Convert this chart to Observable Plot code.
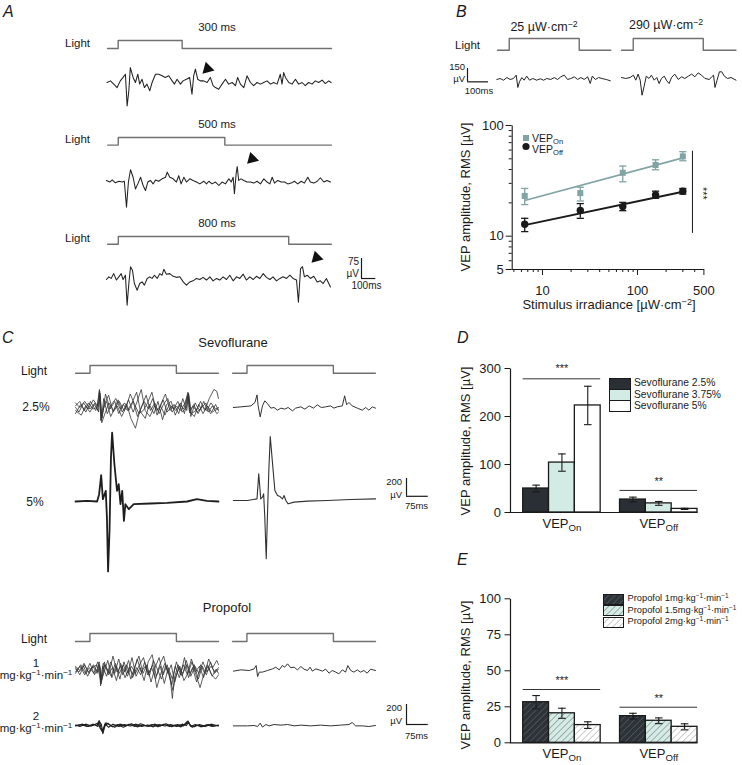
<!DOCTYPE html>
<html><head><meta charset="utf-8">
<script src="https://cdn.jsdelivr.net/npm/d3@7"></script>
<script src="https://cdn.jsdelivr.net/npm/@observablehq/plot@0.6"></script>
<style>
body{margin:0;background:#fff;}
#fig{position:relative;width:742px;height:765px;overflow:hidden;background:#fff;font-family:"Liberation Sans",Arial,Helvetica,sans-serif;color:#1a1a1a;}
.t{position:absolute;white-space:nowrap;line-height:1;color:#1a1a1a;}
sup{font-size:0.7em;vertical-align:0;position:relative;top:-0.45em;}
sub{font-size:0.72em;vertical-align:0;position:relative;top:0.3em;}
</style></head><body><div id="fig"></div>
<script>
// ---------------- DATA ----------------
// Panel A: light durations (ms) and traces [ms, µV]
const lightDurA = [300, 500, 800];
const traceA300 = [[-52,0],[-36,6],[-21,-6],[-5,-19],[10,6],[23,19],[34,31],[42,-88],[50,-31],[57,56],[70,19],[81,0],[92,31],[101,-6],[112,12],[123,-19],[135,-6],[148,-31],[159,0],[175,31],[190,31],[206,25],[221,19],[237,25],[253,6],[264,-6],[276,12],[292,-6],[304,6],[320,12],[335,19],[346,-44],[354,25],[362,50],[373,12],[385,6],[401,6],[417,0],[432,19],[445,-12],[456,-19],[471,-25],[487,-6],[503,12],[518,-6],[534,0],[550,-12],[560,19],[573,-6],[589,-19],[604,25],[620,0],[635,-12],[651,0],[667,-6],[682,0],[698,6],[714,-6],[729,0],[745,-6],[760,31],[768,-6],[776,37],[784,19],[800,0],[815,-6],[831,12],[846,-6],[862,0],[877,-12],[893,0],[909,-6],[924,6],[940,0],[956,9],[971,-4],[987,6],[998,0]];
const traceA500 = [[-55,4],[-39,-2],[-28,6],[-13,-5],[3,1],[19,-2],[29,1],[39,-96],[48,-2],[58,44],[70,16],[81,-28],[92,-9],[105,16],[117,-15],[128,-34],[139,-2],[151,4],[164,-9],[175,6],[190,1],[206,10],[222,16],[230,35],[242,16],[258,10],[273,-2],[284,22],[295,-9],[308,16],[320,-2],[336,10],[351,4],[367,-2],[383,-9],[401,1],[414,-9],[425,1],[440,-9],[456,-2],[472,-15],[487,-2],[503,-9],[519,10],[530,-2],[539,16],[545,-46],[553,29],[558,56],[565,4],[576,10],[589,4],[604,-2],[620,-2],[636,-6],[651,1],[667,-9],[683,10],[698,-2],[711,-9],[722,16],[733,-6],[748,4],[764,-2],[780,-2],[795,-9],[811,-6],[826,1],[842,-9],[858,1],[873,-6],[889,16],[901,-2],[917,-6],[933,1],[948,14],[964,-2],[979,4],[995,-2]];
const traceA800 = [[-55,0],[-44,10],[-33,4],[-21,22],[-8,-2],[3,10],[14,22],[23,0],[34,16],[42,-96],[50,-15],[58,48],[67,35],[76,-15],[89,-40],[101,-15],[112,-9],[123,-21],[136,4],[148,10],[159,4],[170,16],[183,4],[195,22],[206,16],[214,38],[226,20],[242,22],[258,12],[273,8],[289,10],[305,-9],[320,-21],[336,-9],[351,-5],[367,4],[383,0],[398,8],[414,-2],[430,10],[445,-5],[461,4],[476,-2],[492,10],[508,0],[523,16],[539,-5],[555,10],[570,4],[586,20],[601,-2],[617,10],[633,0],[648,12],[664,4],[680,22],[695,8],[711,0],[726,10],[742,-5],[758,4],[773,10],[789,4],[805,16],[820,4],[836,-2],[845,-85],[855,41],[864,48],[873,10],[886,16],[901,4],[917,12],[933,-9],[948,-5],[961,-15],[976,4],[995,-28]];
const arrowA = [[419,52],[628,85],[930,82]];

// Panel B: traces at two irradiances [ms, µV]
const lightDurB = [300, 300];
const traceB25 = [[-53,0],[-39,11],[-24,-8],[-10,22],[4,0],[18,11],[30,49],[37,-90],[44,-26],[54,22],[64,-8],[75,38],[87,-8],[101,11],[118,-8],[133,8],[147,-8],[161,11],[178,0],[193,22],[207,0],[221,30],[236,49],[250,0],[264,11],[279,30],[293,0],[307,22],[321,0],[336,30],[347,-45],[356,38],[369,0],[383,22],[397,11],[416,0],[433,-15]];
const traceB290 = [[-50,0],[-32,-11],[-13,0],[1,26],[11,-30],[21,38],[30,-30],[38,-199],[47,-98],[56,15],[68,-11],[78,26],[90,-30],[101,0],[111,-68],[121,-11],[133,15],[144,-38],[154,-68],[164,0],[178,38],[193,-22],[207,8],[221,-11],[236,15],[250,38],[264,8],[278,52],[293,26],[307,-11],[326,-22],[336,8],[344,26],[350,-112],[359,-30],[369,64],[379,64],[390,15],[404,-11],[419,0],[440,-30]];

// Panel B: dose-response (µW·cm-2 vs µV RMS)
const irradiance = [6.5, 25, 70, 155, 300];
const vepOnMean = [23.1, 24.5, 37.4, 44, 52.6];
const vepOnLo   = [19.3, 20.8, 31, 39.8, 48];
const vepOnHi   = [27, 27.7, 43, 49, 58];
const vepOffMean = [12.8, 17.1, 18.5, 23.6, 25.5];
const vepOffLo   = [11, 14.5, 17, 22, 24];
const vepOffHi   = [14.5, 19.7, 20.2, 25.5, 27];
const fitOn  = [[6.5, 21.0], [300, 51]];
const fitOff = [[6.5, 12.6], [300, 25.2]];
const sigB = [{x: 379, y1: 10.6, y2: 58.6, tx: 483, ty: 24.4, label: "***"}];

// Panel C: sevoflurane and propofol traces [ms, µV]
const lightDurC = [300, 300];
const sevo25Left = [
 [[-50,17],[-35,68],[-20,-34],[-5,51],[10,-17],[25,0],[33,200],[39,-150],[48,100],[60,-68],[75,34],[90,100],[105,-17],[120,51],[135,-34],[150,68],[165,-100],[180,17],[195,136],[210,-34],[225,51],[240,-68],[255,34],[270,100],[285,-51],[300,17],[315,-34],[330,51],[340,170],[346,-60],[360,34],[375,-68],[390,17],[405,-34],[420,51],[435,-17],[446,0]],
 [[-50,-34],[-30,-85],[-15,17],[0,-51],[15,34],[28,-34],[34,180],[40,-130],[50,34],[65,136],[80,-51],[95,17],[110,-100],[125,0],[140,150],[155,34],[170,-68],[185,-34],[200,51],[215,170],[230,-34],[245,17],[260,-85],[275,34],[290,-17],[305,68],[320,-51],[335,0],[341,150],[348,-51],[362,-100],[378,34],[392,-68],[408,17],[422,-51],[436,34],[446,-34]],
 [[-50,51],[-35,0],[-18,68],[0,-17],[18,51],[30,-51],[35,160],[41,-170],[52,-68],[66,51],[82,-34],[98,85],[112,-51],[128,34],[142,-120],[158,-230],[172,-51],[188,68],[203,-17],[218,100],[233,-85],[248,51],[262,150],[278,-34],[292,34],[308,-68],[322,100],[336,-34],[342,160],[350,-100],[365,51],[380,-34],[395,68],[410,-51],[425,17],[440,-68],[446,-51]],
 [[-50,-68],[-32,34],[-14,-51],[2,68],[20,-34],[31,51],[36,130],[42,-120],[54,150],[70,-17],[86,68],[100,-68],[116,34],[130,-34],[146,51],[162,170],[176,-51],[192,-120],[206,34],[222,-68],[236,68],[252,-136],[266,34],[282,68],[296,-85],[312,34],[326,-17],[338,120],[343,140],[352,-68],[368,-34],[384,68],[398,-34],[414,100],[430,200],[440,180],[446,100]],
 [[-50,0],[-38,-51],[-22,51],[-6,-17],[12,85],[26,17],[33,180],[38,-140],[46,-17],[58,68],[72,-100],[88,0],[102,68],[118,-34],[134,85],[150,-51],[164,68],[178,200],[192,-34],[208,-100],[224,17],[238,-34],[254,85],[268,-51],[284,17],[298,-34],[314,51],[328,-68],[340,140],[345,-34],[358,17],[372,-51],[388,0],[402,51],[418,-68],[432,-34],[446,-17]]
];
const sevo25Right = [[-47,0],[-21,7],[14,18],[28,56],[35,140],[39,18],[46,-104],[54,18],[62,74],[71,44],[83,-7],[94,0],[106,-30],[118,-7],[131,-18],[143,0],[158,-37],[169,-7],[187,7],[201,-18],[216,18],[231,-7],[244,30],[258,0],[273,7],[290,18],[302,-7],[313,7],[331,18],[339,130],[346,30],[354,56],[365,18],[383,-7],[400,-30],[412,0],[423,-30],[435,7],[446,-7]];
const sevo5Left = [[-50,0],[-9,7],[25,0],[32,81],[39,292],[45,26],[51,81],[55,118],[59,-178],[63,-777],[68,-326],[73,488],[77,766],[85,414],[94,118],[100,192],[106,-30],[112,118],[118,-215],[123,-30],[135,-85],[152,-30],[210,-22],[268,-15],[337,0],[371,26],[406,7],[446,0]];
const sevo5Right = [[-47,0],[2,0],[35,18],[41,296],[48,18],[54,37],[58,74],[62,-185],[67,-648],[71,-185],[76,333],[81,710],[89,407],[97,111],[106,55],[115,44],[123,18],[129,55],[135,0],[143,-37],[164,-18],[210,-7],[279,0],[360,11],[446,18]];
const prop1Left = [
 [[-50,32],[-35,-48],[-20,64],[-5,-16],[10,48],[25,-32],[32,96],[37,-170],[44,48],[58,-64],[72,96],[86,-32],[100,128],[114,-48],[128,64],[142,-96],[156,48],[170,160],[184,-32],[198,64],[212,-128],[226,32],[240,144],[254,-48],[268,64],[280,-128],[286,-310],[292,-96],[306,64],[320,-64],[334,112],[348,-32],[362,64],[376,-96],[390,48],[404,-48],[418,96],[432,-32],[446,16]],
 [[-50,-32],[-32,64],[-16,-32],[0,80],[16,-48],[28,32],[34,64],[38,-130],[48,-32],[62,112],[76,-80],[90,48],[104,-96],[118,96],[132,-32],[146,144],[160,-64],[174,32],[188,-112],[202,96],[216,176],[230,-64],[244,48],[258,-144],[272,32],[286,-96],[300,96],[314,-48],[328,144],[342,-80],[356,32],[370,-128],[384,64],[398,-32],[412,128],[426,32],[440,112],[446,64]],
 [[-50,16],[-38,-16],[-22,48],[-8,-64],[8,32],[24,64],[33,-48],[39,-150],[50,96],[64,-48],[78,32],[92,-112],[106,80],[120,-16],[134,112],[148,-80],[162,32],[176,-48],[190,96],[204,-32],[218,64],[232,-190],[246,-32],[260,80],[274,-48],[288,-220],[298,-64],[312,48],[326,-112],[340,-32],[354,96],[368,-48],[382,-190],[396,-32],[410,48],[424,-64],[438,16],[446,-32]],
 [[-50,-16],[-34,48],[-18,-48],[-2,32],[14,-32],[27,96],[35,32],[40,-120],[52,64],[66,-32],[80,160],[94,-16],[108,48],[122,-80],[136,32],[150,-48],[164,128],[178,-16],[192,48],[206,-64],[220,112],[234,16],[248,-96],[262,48],[276,-32],[284,-160],[296,48],[310,-80],[324,64],[338,-48],[352,128],[366,-16],[380,48],[394,-80],[408,64],[422,-48],[436,-96],[446,-48]],
 [[-50,48],[-36,0],[-20,80],[-4,-32],[12,64],[26,-16],[34,48],[38,-100],[46,80],[60,16],[74,-64],[88,80],[102,-32],[116,64],[130,-64],[144,48],[158,-32],[172,64],[186,144],[200,-48],[214,32],[228,-96],[242,64],[256,160],[270,-32],[282,64],[294,-128],[308,32],[322,-32],[336,64],[350,-64],[364,48],[378,-32],[392,96],[406,-16],[420,48],[434,-16],[446,32]]
];
const prop1Right = [[-47,-7],[-21,7],[8,0],[25,18],[32,55],[37,-67],[43,-18],[54,-18],[71,0],[89,18],[100,37],[112,7],[123,55],[131,37],[141,74],[152,30],[164,37],[175,7],[187,44],[198,15],[210,0],[219,37],[227,-7],[239,18],[250,7],[262,-7],[273,15],[285,-30],[296,0],[308,-18],[319,-37],[331,7],[342,-18],[350,55],[360,0],[371,-18],[383,7],[394,-18],[406,0],[417,-30],[429,15],[446,0]];
const prop2Left = [
 [[-50,0],[-30,10],[-10,-10],[10,15],[25,0],[32,55],[38,-20],[44,-80],[52,20],[65,-20],[80,15],[100,-10],[120,10],[140,-5],[160,15],[180,-10],[200,5],[220,-15],[240,10],[260,-5],[280,10],[300,-10],[320,15],[335,0],[342,40],[350,-10],[365,10],[385,-15],[405,5],[425,-10],[446,5]],
 [[-50,5],[-35,-10],[-15,15],[5,-5],[22,20],[30,30],[35,-30],[42,-60],[50,-10],[62,25],[78,-15],[96,10],[116,-20],[136,15],[156,-10],[176,20],[196,-5],[216,10],[236,-15],[256,15],[276,-10],[296,5],[316,-15],[330,20],[340,50],[348,0],[362,-15],[380,10],[400,-10],[420,15],[446,-5]],
 [[-50,-5],[-25,15],[-5,-10],[15,10],[28,-10],[33,45],[40,10],[45,-90],[55,30],[70,5],[86,-20],[104,15],[124,-5],[144,20],[164,-15],[184,5],[204,-10],[224,15],[244,-5],[264,20],[284,-15],[304,10],[324,-5],[338,30],[344,20],[355,-20],[370,5],[390,-10],[410,10],[430,-5],[446,0]]
];
const prop2Right = [[-47,-4],[2,-4],[25,0],[37,-11],[46,26],[54,-18],[66,11],[77,-4],[94,11],[118,4],[141,11],[164,-4],[187,4],[221,-4],[256,4],[290,-4],[325,4],[354,11],[365,33],[377,-4],[400,-4],[423,-11],[446,0]];

// Panel D: sevoflurane bar chart (µV RMS)
const groups = ["VEP_On", "VEP_Off"];
const sevoSeries = ["Sevoflurane 2.5%", "Sevoflurane 3.75%", "Sevoflurane 5%"];
const sevoOnMean = [50, 104, 223];
const sevoOnErr  = [7, 18, 40];
const sevoOffMean = [27, 19, 7.5];
const sevoOffErr  = [5, 4, 1.2];
const sevoSig = [{group: "VEP_On", y: 278.5, ty: 306, label: "***"}, {group: "VEP_Off", y: 46, ty: 71.5, label: "**"}];
const sevoTicks = [0, 100, 200, 300];

// Panel E: propofol bar chart (µV RMS)
const propSeries = ["Propofol 1mg·kg<sup>−1</sup>·min<sup>−1</sup>", "Propofol 1.5mg·kg<sup>−1</sup>·min<sup>−1</sup>", "Propofol 2mg·kg<sup>−1</sup>·min<sup>−1</sup>"];
const propOnMean = [28.2, 20.5, 12.3];
const propOnErr  = [4.6, 3.5, 2.3];
const propOffMean = [18.5, 15.3, 11.1];
const propOffErr  = [2, 2, 2.1];
const propSig = [{group: "VEP_On", y: 37, ty: 45.6, label: "***"}, {group: "VEP_Off", y: 24.7, ty: 32.8, label: "**"}];
const propTicks = [0, 25, 50, 75, 100];

// ---------------- HELPERS ----------------
const fig = document.getElementById("fig");
const FONT = '"Liberation Sans",Arial,Helvetica,sans-serif';
const INK = "#1a1a1a";
const LIGHT = "#707070";
const onColor = "#80a3a3";
const baseStyle = {background: "transparent", overflow: "visible", fontFamily: FONT, color: INK};

const defs = document.createElementNS("http://www.w3.org/2000/svg", "svg");
defs.setAttribute("width", 0); defs.setAttribute("height", 0);
defs.style.position = "absolute";
defs.innerHTML = `<defs>
<pattern id="h0" patternUnits="userSpaceOnUse" width="4.5" height="4.5" patternTransform="rotate(45)"><rect width="4.5" height="4.5" fill="#2c3237"/><line x1="0" y1="0" x2="0" y2="4.5" stroke="#5b6468" stroke-width="1.2"/></pattern>
<pattern id="h1" patternUnits="userSpaceOnUse" width="4.5" height="4.5" patternTransform="rotate(45)"><rect width="4.5" height="4.5" fill="#d5ebe6"/><line x1="0" y1="0" x2="0" y2="4.5" stroke="#4a4f50" stroke-width="0.8"/></pattern>
<pattern id="h2" patternUnits="userSpaceOnUse" width="4.5" height="4.5" patternTransform="rotate(45)"><rect width="4.5" height="4.5" fill="#ffffff"/><line x1="0" y1="0" x2="0" y2="4.5" stroke="#808080" stroke-width="0.8"/></pattern>
</defs>`;
fig.appendChild(defs);

function place(node, left, top) {
  node.style.position = "absolute";
  node.style.left = left + "px";
  node.style.top = top + "px";
  fig.appendChild(node);
  return node;
}
function txt(html, x, y, {size = 11, anchor = "middle", italic = false, rotate = 0} = {}) {
  const d = document.createElement("div");
  d.className = "t";
  d.innerHTML = html;
  d.style.left = x + "px"; d.style.top = y + "px";
  d.style.fontSize = size + "px";
  if (italic) d.style.fontStyle = "italic";
  const tx = anchor === "middle" ? "-50%" : anchor === "end" ? "-100%" : "0";
  d.style.transform = `translate(${tx},-50%)` + (rotate ? ` rotate(${rotate}deg)` : "");
  fig.appendChild(d);
  return d;
}
function subs(svg) {
  svg.querySelectorAll("text").forEach(t => {
    const s = t.textContent;
    if (!s.includes("_")) return;
    const [a, b] = s.split("_");
    t.textContent = a;
    const ts = document.createElementNS("http://www.w3.org/2000/svg", "tspan");
    ts.setAttribute("dy", "0.32em");
    ts.setAttribute("font-size", "0.74em");
    ts.textContent = b;
    t.appendChild(ts);
  });
  return svg;
}
const cap = {draw(ctx, size) { const w = Math.sqrt(size / Math.PI); ctx.moveTo(-w, 0); ctx.lineTo(w, 0); }};

function tracePlot(series, {x0, x1, t0, t1, cy, k, color = "#222", sw = 1, extra = []}) {
  const hh = 40;
  const p = Plot.plot({
    width: x1 - x0, height: 2 * hh, margin: 0,
    x: {domain: [t0, t1], axis: null}, y: {domain: [-hh / k, hh / k], axis: null},
    style: baseStyle,
    marks: [
      ...series.map(s => Plot.line(s, {x: d => d[0], y: d => d[1], stroke: color, strokeWidth: sw, strokeLinejoin: "round"})),
      ...extra
    ]
  });
  return place(p, x0, cy - hh);
}
function lightPlot(dur, {x0, x1, t0, t1, yHigh, yBase}) {
  const pts = [[t0, 0], [0, 1], [dur, 0], [t1, 0]];
  const p = Plot.plot({
    width: x1 - x0, height: yBase - yHigh, margin: 0,
    x: {domain: [t0, t1], axis: null}, y: {domain: [0, 1], axis: null},
    style: baseStyle,
    marks: [Plot.line(pts, {x: d => d[0], y: d => d[1], curve: "step-after", stroke: LIGHT, strokeWidth: 1.4})]
  });
  return place(p, x0, yHigh);
}
function scaleBar({x, yBottom, ms, uv, kx, ky}) {
  const w = ms * kx, h = uv * ky;
  const p = Plot.plot({
    width: w, height: h, margin: 0,
    x: {domain: [0, ms], axis: null}, y: {domain: [0, uv], axis: null},
    style: baseStyle,
    marks: [
      Plot.ruleX([0], {y1: 0, y2: uv, stroke: INK, strokeWidth: 1.2}),
      Plot.ruleY([0], {x1: 0, x2: ms, stroke: INK, strokeWidth: 1.2})
    ]
  });
  return place(p, x, yBottom - h);
}

// ---------------- PANEL LETTERS ----------------
txt("A", 3, 12, {size: 16, anchor: "start", italic: true});
txt("B", 456, 12, {size: 16, anchor: "start", italic: true});
txt("C", 2, 338, {size: 16, anchor: "start", italic: true});
txt("D", 457, 338, {size: 16, anchor: "start", italic: true});
txt("E", 457, 560, {size: 16, anchor: "start", italic: true});

// ---------------- PANEL A ----------------
const aX = {x0: 107, x1: 331, t0: -50, t1: 1000};
const aRows = [
  {dur: lightDurA[0], tr: traceA300, label: "300 ms", ly: 28, hi: 40.3, base: 48.3, cy: 81.7, arrow: arrowA[0]},
  {dur: lightDurA[1], tr: traceA500, label: "500 ms", ly: 124.5, hi: 136.7, base: 144.3, cy: 181, arrow: arrowA[1]},
  {dur: lightDurA[2], tr: traceA800, label: "800 ms", ly: 223.5, hi: 236, base: 243.7, cy: 279, arrow: arrowA[2]}
];
for (const r of aRows) {
  txt(r.label, 217, r.ly, {size: 11.5});
  txt("Light", 77.5, (r.hi + r.base) / 2 - 0.5, {size: 11.5});
  lightPlot(r.dur, {...aX, yHigh: r.hi, yBase: r.base});
  tracePlot([r.tr], {...aX, cy: r.cy, k: 0.267, color: "#222", sw: 1.05,
    extra: [Plot.dot([r.arrow], {x: d => d[0], y: d => d[1], symbol: "triangle", r: 4.6, fill: "#111", rotate: 225})]});
}
scaleBar({x: 360.7, yBottom: 278, ms: 100, uv: 75, kx: 0.143, ky: 0.267});
txt("75", 359, 262, {size: 10, anchor: "end"});
txt("µV", 359, 273.5, {size: 10, anchor: "end"});
txt("100ms", 366.5, 285.5, {size: 10});

// ---------------- PANEL B traces ----------------
txt("25 µW·cm<sup>−2</sup>", 544, 26.5, {size: 12.5});
txt("290 µW·cm<sup>−2</sup>", 666, 25, {size: 12.5});
txt("Light", 467.5, 46, {size: 11.5});
const b1 = {x0: 496.7, x1: 610, t0: -50, t1: 435};
const b2 = {x0: 620.7, x1: 735.2, t0: -50, t1: 440};
lightPlot(lightDurB[0], {...b1, yHigh: 38.3, yBase: 50});
lightPlot(lightDurB[1], {...b2, yHigh: 38.3, yBase: 50});
tracePlot([traceB25], {...b1, cy: 79.3, k: 0.0889, sw: 1});
tracePlot([traceB290], {...b2, cy: 77.3, k: 0.0889, sw: 1});
scaleBar({x: 467.3, yBottom: 81.7, ms: 100, uv: 150, kx: 0.21, ky: 0.0889});
txt("150", 465, 66.5, {size: 9.5, anchor: "end"});
txt("µV", 465, 78.5, {size: 9.5, anchor: "end"});
txt("100ms", 479, 90.5, {size: 9.5});

// ---------------- PANEL B scatter ----------------
{
  const L = 440, T = 100, W = 300, H = 220, ml = 71.7, mt = 25, mr = 36.6, mb = 51;
  const fw = W - ml - mr, fh = H - mt - mb;
  const on = irradiance.map((x, i) => ({x, m: vepOnMean[i], lo: vepOnLo[i], hi: vepOnHi[i]}));
  const off = irradiance.map((x, i) => ({x, m: vepOffMean[i], lo: vepOffLo[i], hi: vepOffHi[i]}));
  const p = Plot.plot({
    width: W, height: H, marginLeft: ml, marginTop: mt, marginRight: mr, marginBottom: mb,
    x: {type: "log", domain: [4.8, 500]}, y: {type: "log", domain: [5, 100]},
    style: {...baseStyle, fontSize: "13px"},
    marks: [
      Plot.frame({stroke: INK, strokeWidth: 1.1, strokeDasharray: `0,${fw + fh},${fw + fh}`}),
      Plot.axisY({ticks: [5, 10, 100], tickSize: 6, tickPadding: 2.5, tickFormat: d => String(d), label: null, stroke: INK}),
      Plot.axisY({ticks: [6, 7, 8, 9, 20, 30, 40, 50, 60, 70, 80, 90], tickSize: 3, tickFormat: () => "", label: null, stroke: INK}),
      Plot.axisX({ticks: [10, 100, 500], tickSize: 6, tickPadding: 10, tickFormat: d => String(d), label: null, stroke: INK}),
      Plot.axisX({ticks: [5, 6, 7, 8, 9, 20, 30, 40, 50, 60, 70, 80, 90, 200, 300, 400], tickSize: 3, tickFormat: () => "", label: null, stroke: INK}),
      Plot.line(fitOn, {x: d => d[0], y: d => d[1], stroke: onColor, strokeWidth: 1.7}),
      Plot.line(fitOff, {x: d => d[0], y: d => d[1], stroke: INK, strokeWidth: 1.9}),
      Plot.ruleX(on, {x: "x", y1: "lo", y2: "hi", stroke: onColor, strokeWidth: 1.3}),
      Plot.dot(on, {x: "x", y: "hi", symbol: cap, r: 3.6, stroke: onColor, strokeWidth: 1.3}),
      Plot.dot(on, {x: "x", y: "lo", symbol: cap, r: 3.6, stroke: onColor, strokeWidth: 1.3}),
      Plot.ruleX(off, {x: "x", y1: "lo", y2: "hi", stroke: INK, strokeWidth: 1.3}),
      Plot.dot(off, {x: "x", y: "hi", symbol: cap, r: 3.6, stroke: INK, strokeWidth: 1.3}),
      Plot.dot(off, {x: "x", y: "lo", symbol: cap, r: 3.6, stroke: INK, strokeWidth: 1.3}),
      Plot.dot(on, {x: "x", y: "m", symbol: "square", r: 3.4, fill: onColor, stroke: "none"}),
      Plot.dot(off, {x: "x", y: "m", symbol: "circle", r: 3.7, fill: INK, stroke: "none"}),
      Plot.ruleX(sigB, {x: "x", y1: "y1", y2: "y2", stroke: INK, strokeWidth: 1}),
      Plot.text(sigB, {x: "tx", y: "ty", text: "label", rotate: 90, fontSize: 11})
    ]
  });
  place(p, L, T);
  txt("VEP amplitude, RMS [µV]", 465, 197, {size: 13, rotate: -90});
  txt("Stimulus irradiance [µW·cm<sup>−2</sup>]", 609, 305, {size: 13});
  const lg = document.createElement("div");
  lg.innerHTML = `<svg width="12" height="26" style="overflow:visible"><rect x="3" y="3" width="6" height="6" fill="${onColor}"/><circle cx="6" cy="14.5" r="3.6" fill="${INK}"/></svg>`;
  place(lg, 520, 132);
  txt("VEP<sub>On</sub>", 532, 137.5, {size: 10.5, anchor: "start"});
  txt("VEP<sub>Off</sub>", 532, 148.5, {size: 10.5, anchor: "start"});
}

// ---------------- PANEL C ----------------
const cL = {x0: 75, x1: 218, t0: -50, t1: 446};
const cR = {x0: 231.6, x1: 374.6, t0: -50, t1: 446};
const kC = 0.09;
txt("Sevoflurane", 233, 342, {size: 13});
txt("Light", 34, 371, {size: 12});
lightPlot(lightDurC[0], {...cL, yHigh: 365, yBase: 372.7});
lightPlot(lightDurC[1], {...cR, yHigh: 365, yBase: 372.7});
txt("2.5%", 36, 407, {size: 12});
tracePlot(sevo25Left, {...cL, cy: 406.7, k: kC, color: "#333", sw: 0.8});
tracePlot([sevo25Right], {...cR, cy: 406.7, k: kC, color: "#333", sw: 1});
txt("5%", 35, 502, {size: 12});
tracePlot([sevo5Left], {...cL, cy: 500.7, k: kC, color: "#1e1e1e", sw: 1.8});
tracePlot([sevo5Right], {...cR, cy: 500, k: kC, color: "#333", sw: 1.1});
scaleBar({x: 405.7, yBottom: 495.7, ms: 75, uv: 200, kx: 0.29, ky: 0.089});
txt("200", 402, 482, {size: 9.5, anchor: "end"});
txt("µV", 402, 494.5, {size: 9.5, anchor: "end"});
txt("75ms", 416.5, 505.5, {size: 9.5});

txt("Propofol", 227, 607, {size: 13});
txt("Light", 34, 638.5, {size: 12});
lightPlot(lightDurC[0], {...cL, yHigh: 632.7, yBase: 640.7});
lightPlot(lightDurC[1], {...cR, yHigh: 632.7, yBase: 640.7});
txt("1", 36, 664, {size: 11.5});
txt("mg·kg<sup>−1</sup>·min<sup>−1</sup>", 36, 676, {size: 11.5});
tracePlot(prop1Left, {...cL, cy: 670, k: kC, color: "#333", sw: 0.8});
tracePlot([prop1Right], {...cR, cy: 670, k: kC, color: "#333", sw: 1});
txt("2", 36, 717, {size: 11.5});
txt("mg·kg<sup>−1</sup>·min<sup>−1</sup>", 36, 729, {size: 11.5});
tracePlot(prop2Left, {...cL, cy: 725, k: kC, color: "#1e1e1e", sw: 1.1});
tracePlot([prop2Right], {...cR, cy: 725, k: kC, color: "#333", sw: 1});
scaleBar({x: 405.7, yBottom: 724, ms: 75, uv: 200, kx: 0.29, ky: 0.1});
txt("200", 402, 708, {size: 9.5, anchor: "end"});
txt("µV", 402, 720.5, {size: 9.5, anchor: "end"});
txt("75ms", 416.5, 735.5, {size: 9.5});

// ---------------- PANELS D & E ----------------
function barPanel({top, H, mt, mb, yDomain, yTicks, onMean, onErr, offMean, offErr, fills, sig}) {
  const L = 440, W = 270, ml = 70, mr = 13;
  const fw = W - ml - mr, fh = H - mt - mb;
  const xr = [82.7, 257], pin = 0.2;
  const step = (xr[1] - xr[0]) / (2 - pin), bw = step * (1 - pin);
  const rows = [];
  groups.forEach((g, gi) => [0, 1, 2].forEach(s => rows.push({group: g, s, v: (gi ? offMean : onMean)[s], e: (gi ? offErr : onErr)[s]})));
  const marks = [Plot.frame({stroke: INK, strokeWidth: 1.2, strokeDasharray: `0,${fw + fh},${fw + fh}`})];
  for (const s of [0, 1, 2]) {
    const rs = rows.filter(r => r.s === s);
    marks.push(Plot.barY(rs, {x: "group", y: "v", fill: fills[s], stroke: INK, strokeWidth: 1.3, insetLeft: s * bw / 3, insetRight: (2 - s) * bw / 3}));
  }
  for (const s of [0, 1, 2]) {
    const rs = rows.filter(r => r.s === s);
    const dx = (s - 1) * bw / 3;
    marks.push(Plot.ruleX(rs, {x: "group", y1: r => r.v - r.e, y2: r => r.v + r.e, dx, stroke: INK, strokeWidth: 1.1}));
    marks.push(Plot.dot(rs, {x: "group", y: r => r.v + r.e, dx, symbol: cap, r: 3.8, stroke: INK, strokeWidth: 1.1}));
    marks.push(Plot.dot(rs, {x: "group", y: r => r.v - r.e, dx, symbol: cap, r: 3.8, stroke: INK, strokeWidth: 1.1}));
  }
  marks.push(Plot.tickY(sig, {x: "group", y: "y", stroke: "#333", strokeWidth: 1}));
  marks.push(Plot.text(sig, {x: "group", y: "ty", text: "label", fontSize: 11, dy: 3}));
  marks.push(Plot.axisY({ticks: yTicks, tickSize: 5.5, tickPadding: 4, label: null, fontSize: 13}));
  marks.push(Plot.axisX({tickSize: 0, tickPadding: 6, label: null, fontSize: 13}));
  const p = Plot.plot({
    width: W, height: H, marginLeft: ml, marginRight: mr, marginTop: mt, marginBottom: mb,
    x: {type: "band", domain: groups, range: xr, paddingInner: pin, paddingOuter: 0, round: false},
    y: {domain: yDomain},
    style: {...baseStyle, fontSize: "13px"},
    marks
  });
  subs(p);
  return place(p, L, top);
}
barPanel({top: 340, H: 200, mt: 28, mb: 28, yDomain: [0, 300], yTicks: sevoTicks,
  onMean: sevoOnMean, onErr: sevoOnErr, offMean: sevoOffMean, offErr: sevoOffErr,
  fills: ["#2a2f35", "#d3ebe5", "#ffffff"], sig: sevoSig});
txt("VEP amplitude, RMS [µV]", 465, 441, {size: 13, rotate: -90});
{
  const fills = ["#2a2f35", "#d3ebe5", "#ffffff"];
  sevoSeries.forEach((s, i) => {
    const b = document.createElement("div");
    b.style.cssText = `width:20px;height:10px;background:${fills[i]};border:1px solid ${INK};`;
    place(b, 609, 377.8 + i * 11.2);
    txt(s, 634, 383.3 + i * 11.2, {size: 10.3, anchor: "start"});
  });
}

barPanel({top: 570, H: 200, mt: 28.3, mb: 27.7, yDomain: [0, 100], yTicks: propTicks,
  onMean: propOnMean, onErr: propOnErr, offMean: propOffMean, offErr: propOffErr,
  fills: ["url(#h0)", "url(#h1)", "url(#h2)"], sig: propSig});
txt("VEP amplitude, RMS [µV]", 465, 675, {size: 13, rotate: -90});
{
  const pats = ["h0", "h1", "h2"];
  propSeries.forEach((s, i) => {
    const b = document.createElement("div");
    b.innerHTML = `<svg width="21" height="11" style="display:block"><rect x="0.5" y="0.5" width="20" height="10" fill="url(#${pats[i]})" stroke="${INK}" stroke-width="1"/></svg>`;
    place(b, 602.7, 593.8 + i * 11.6);
    txt(s, 627.5, 599.2 + i * 11.6, {size: 9.3, anchor: "start"});
  });
}
</script></body></html>
